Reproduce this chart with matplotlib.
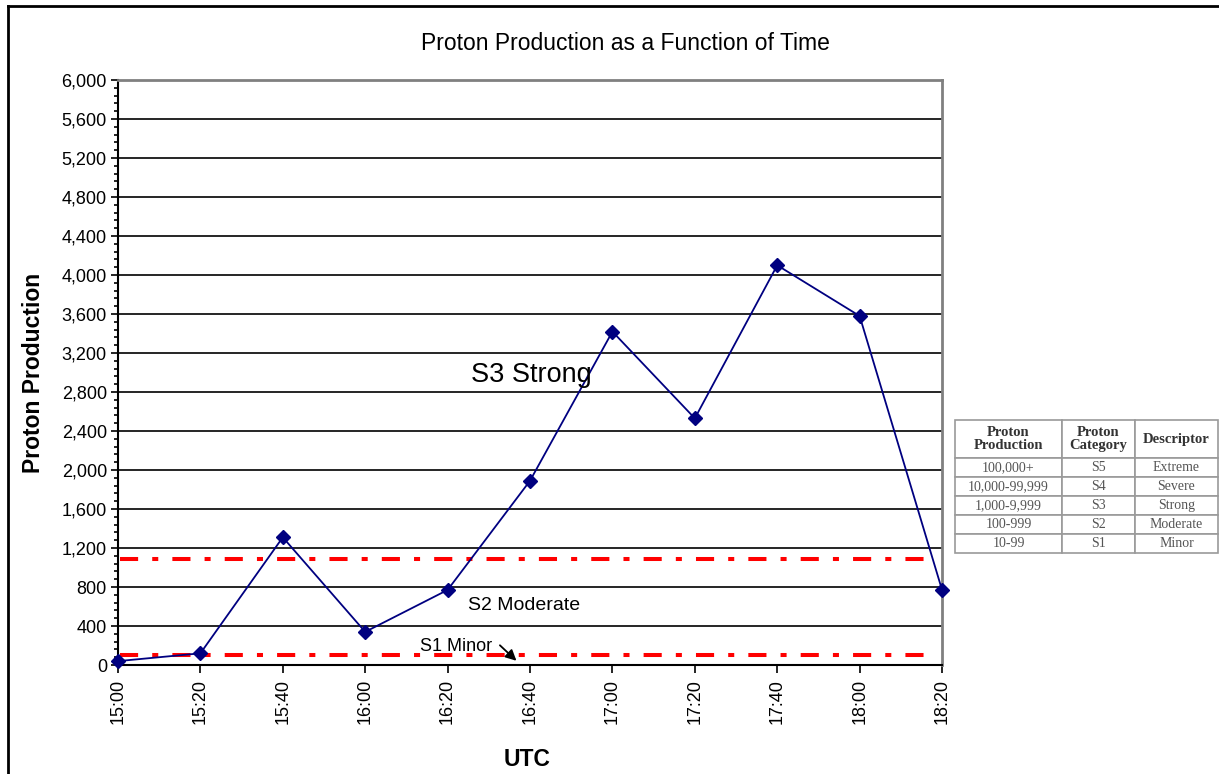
import numpy as np
import matplotlib.pyplot as plt
from matplotlib.lines import Line2D
from matplotlib.ticker import FuncFormatter, MultipleLocator

# data
times = ["15:00", "15:20", "15:40", "16:00", "16:20", "16:40",
         "17:00", "17:20", "17:40", "18:00", "18:20"]
minutes = [0, 20, 40, 60, 80, 100, 120, 140, 160, 180, 200]
protons = [40, 120, 1310, 340, 770, 1890, 3420, 2530, 4100, 3580, 770]
thresholds = [100, 1090]

table_header = ["Proton\nProduction", "Proton\nCategory", "Descriptor"]
table_rows = [["100,000+", "S5", "Extreme"],
              ["10,000-99,999", "S4", "Severe"],
              ["1,000-9,999", "S3", "Strong"],
              ["100-999", "S2", "Moderate"],
              ["10-99", "S1", "Minor"]]

plt.rcParams['font.family'] = ['Liberation Sans', 'DejaVu Sans']

fig = plt.figure(figsize=(12.19, 7.74), dpi=100)
ax = fig.add_axes([0.0968, 0.1408, 0.676, 0.7558])

# grid lines
for v in np.arange(400, 6000, 400):
    ax.axhline(v, color='black', lw=1.2, zorder=1)

# threshold lines
for t in thresholds:
    ax.axhline(t, xmin=0.002, xmax=0.993, color='red', lw=2.9,
               linestyle=(0, (4.5, 3.5, 1.5, 3.5)), zorder=2)

ax.plot(minutes, protons, color='#000080', lw=1.3, marker='D',
        markersize=7, zorder=3, clip_on=False)

ax.set_xlim(0, 200)
ax.set_ylim(0, 6000)
ax.set_xticks(minutes)
ax.set_xticklabels(times, rotation=90, fontsize=13)
ax.yaxis.set_major_locator(MultipleLocator(400))
ax.yaxis.set_minor_locator(MultipleLocator(80))
ax.yaxis.set_major_formatter(FuncFormatter(lambda v, p: f"{int(v):,}"))
ax.tick_params(axis='y', labelsize=13, length=5, width=1.2, pad=3)
ax.tick_params(axis='y', which='minor', length=3, width=1.2)
ax.tick_params(axis='x', length=6, width=1.2, pad=4)

ax.spines['left'].set_linewidth(1.5)
ax.spines['bottom'].set_linewidth(1.5)
ax.spines['top'].set_color('#808080')
ax.spines['right'].set_color('#808080')
ax.spines['top'].set_linewidth(2)
ax.spines['right'].set_linewidth(2)

ax.set_ylabel("Proton Production", fontsize=16.5, fontweight='bold')
ax.set_xlabel("UTC", fontsize=16.5, fontweight='bold')
ax.yaxis.set_label_coords(-0.089, 0.5)
ax.xaxis.set_label_coords(0.496, -0.142)
fig.text(625 / 1219, 1 - 44 / 774, "Proton Production as a Function of Time",
         fontsize=16.5, ha='center', va='center')

# severity annotations
ax.text(0.428, 0.496, "S3 Strong", transform=ax.transAxes, fontsize=19.5,
        va='center')
ax.text(0.425, 0.101, "S2 Moderate", transform=ax.transAxes, fontsize=14,
        va='center')
ax.text(0.366, 0.031, "S1 Minor", transform=ax.transAxes, fontsize=13,
        va='center')
ax.annotate("", xy=(0.486, 0.004), xytext=(0.461, 0.037),
            xycoords='axes fraction',
            arrowprops=dict(arrowstyle='-|>', color='black', lw=1.3,
                            mutation_scale=16))

# category table
tax = fig.add_axes([955 / 1219, 1 - 553 / 774, 263 / 1219, 133 / 774])
tax.axis('off')
tbl = tax.table(cellText=table_rows, colLabels=table_header,
                colWidths=[107, 73, 83], cellLoc='center',
                bbox=[0, 0, 1, 1])
tbl.auto_set_font_size(False)
rows_h = [38] + [19] * 5
for (r, c), cell in tbl.get_celld().items():
    cell.set_edgecolor('#9a9a9a')
    cell.set_linewidth(1.2)
    cell.set_height(rows_h[r] / 133)
    txt = cell.get_text()
    txt.set_fontfamily('Liberation Serif')
    if r == 0:
        txt.set_fontweight('bold')
        txt.set_fontsize(10.5)
        txt.set_color('#333333')
        txt.set_linespacing(1.0)
    else:
        txt.set_fontsize(10)
        txt.set_color('#555555')

# outer chart border (top and left)
fig.add_artist(Line2D([8 / 1219, 1], [1 - 6 / 774, 1 - 6 / 774],
                      transform=fig.transFigure, color='black', lw=2))
fig.add_artist(Line2D([8 / 1219, 8 / 1219], [0, 1 - 6 / 774],
                      transform=fig.transFigure, color='black', lw=2))

fig.savefig("out.png", dpi=100)
